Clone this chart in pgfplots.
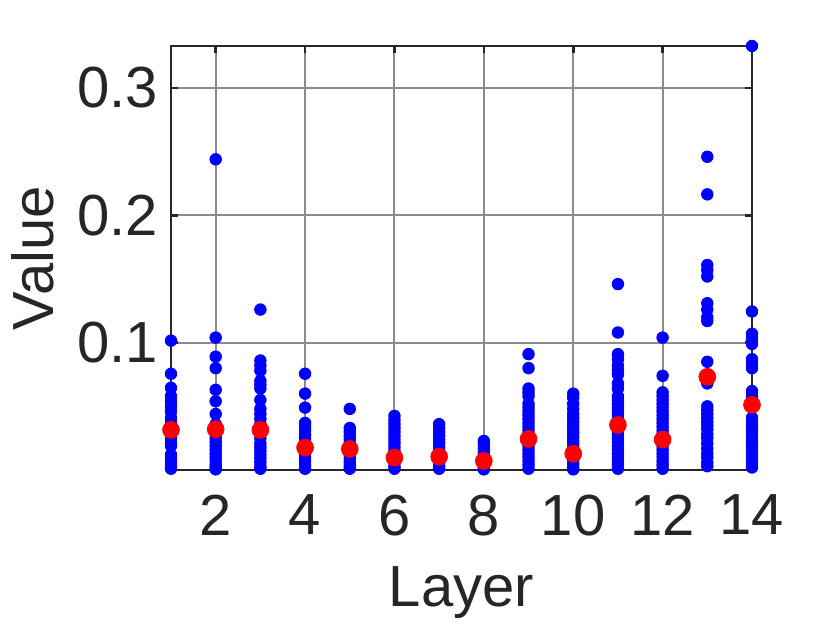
\documentclass[border=0pt]{standalone}
\usepackage{pgfplots}
\pgfplotsset{compat=1.18}
\usepackage{fontspec}
\setmainfont{Liberation Sans}
\definecolor{axgray}{RGB}{38,38,38}

% all values per layer (blue) and the layer means (red)
\pgfplotstableread{
x y
1 0.1016
1 0.0756
1 0.0646
1 0.058
1 0.054
1 0.050
1 0.046
1 0.041
1 0.037
1 0.033
1 0.029
1 0.025
1 0.021
1 0.019
1 0.012
1 0.009
1 0.006
1 0.003
1 0.001
2 0.244
2 0.104
2 0.089
2 0.080
2 0.063
2 0.054
2 0.044
2 0.036
2 0.031
2 0.028
2 0.025
2 0.022
2 0.019
2 0.016
2 0.013
2 0.010
2 0.007
2 0.004
2 0.002
2 0.0005
3 0.126
3 0.086
3 0.082
3 0.078
3 0.070
3 0.067
3 0.064
3 0.055
3 0.048
3 0.044
3 0.040
3 0.036
3 0.025
3 0.021
3 0.018
3 0.015
3 0.012
3 0.009
3 0.006
3 0.003
3 0.001
4 0.0756
4 0.060
4 0.049
4 0.037
4 0.034
4 0.031
4 0.028
4 0.025
4 0.022
4 0.019
4 0.016
4 0.013
4 0.010
4 0.007
4 0.004
4 0.001
5 0.048
5 0.033
5 0.030
5 0.027
5 0.024
5 0.021
5 0.018
5 0.015
5 0.012
5 0.009
5 0.006
5 0.003
5 0.001
6 0.0425
6 0.039
6 0.036
6 0.033
6 0.030
6 0.027
6 0.024
6 0.021
6 0.018
6 0.015
6 0.012
6 0.009
6 0.006
6 0.003
6 0.001
7 0.036
7 0.033
7 0.030
7 0.027
7 0.024
7 0.021
7 0.018
7 0.015
7 0.012
7 0.009
7 0.006
7 0.003
7 0.001
8 0.0228
8 0.020
8 0.017
8 0.014
8 0.011
8 0.008
8 0.005
8 0.002
8 0.0005
9 0.091
9 0.080
9 0.064
9 0.061
9 0.058
9 0.052
9 0.049
9 0.046
9 0.043
9 0.040
9 0.037
9 0.034
9 0.031
9 0.028
9 0.025
9 0.022
9 0.019
9 0.016
9 0.013
9 0.010
9 0.007
9 0.004
9 0.001
10 0.060
10 0.057
10 0.052
10 0.048
10 0.044
10 0.041
10 0.038
10 0.035
10 0.032
10 0.029
10 0.026
10 0.023
10 0.020
10 0.017
10 0.014
10 0.011
10 0.008
10 0.005
10 0.002
10 0.0005
11 0.146
11 0.108
11 0.091
11 0.087
11 0.082
11 0.078
11 0.075
11 0.068
11 0.064
11 0.058
11 0.055
11 0.052
11 0.049
11 0.046
11 0.043
11 0.040
11 0.037
11 0.034
11 0.031
11 0.028
11 0.025
11 0.022
11 0.019
11 0.016
11 0.013
11 0.010
11 0.007
11 0.004
11 0.001
12 0.104
12 0.074
12 0.061
12 0.058
12 0.055
12 0.052
12 0.049
12 0.046
12 0.043
12 0.040
12 0.037
12 0.034
12 0.031
12 0.028
12 0.025
12 0.022
12 0.019
12 0.016
12 0.013
12 0.010
12 0.007
12 0.004
12 0.001
13 0.246
13 0.2165
13 0.161
13 0.157
13 0.152
13 0.131
13 0.126
13 0.120
13 0.117
13 0.085
13 0.068
13 0.050
13 0.047
13 0.044
13 0.041
13 0.038
13 0.035
13 0.032
13 0.028
13 0.025
13 0.021
13 0.017
13 0.013
13 0.010
13 0.006
13 0.003
14 0.333
14 0.1245
14 0.107
14 0.103
14 0.099
14 0.087
14 0.083
14 0.080
14 0.062
14 0.058
14 0.054
14 0.041
14 0.038
14 0.035
14 0.032
14 0.029
14 0.026
14 0.023
14 0.020
14 0.017
14 0.014
14 0.011
14 0.008
14 0.005
14 0.002
}\values

\pgfplotstableread{
x y
1 0.0315
2 0.032
3 0.0315
4 0.0176
5 0.0165
6 0.0097
7 0.0105
8 0.0071
9 0.0244
10 0.0128
11 0.0354
12 0.0239
13 0.0732
14 0.0512
}\means

\begin{document}
\begin{tikzpicture}
\begin{axis}[
  scale only axis, width=290.5pt, height=212pt,
  xmin=1, xmax=14, ymin=0, ymax=0.333,
  xtick={2,4,...,14}, ytick={0.1,0.2,0.3},
  clip=false,
  grid=major,
  major grid style={black!45, line width=1pt},
  axis line style={axgray, line width=1.3pt},
  every tick/.style={axgray, line width=1.3pt},
  major tick length=3.5pt,
  tick align=inside, tick pos=both,
  ticklabel style={font=\fontsize{29}{34}\selectfont, text=axgray},
  /pgf/number format/assume math mode=true,
  xticklabel style={yshift=-9pt},
  yticklabel style={xshift=-3pt},
  label style={font=\fontsize{29}{34}\selectfont, text=axgray},
  xlabel={Layer}, ylabel={Value},
  xlabel style={at={(axis description cs:0.5,-0.29)}, anchor=center},
  ylabel style={at={(axis description cs:-0.2375,0.5)}, anchor=center},
]
\addplot[only marks, mark=*, mark size=2.9pt, color=blue] table[x=x, y=y] {\values};
\addplot[only marks, mark=*, mark size=4.2pt, color=red] table[x=x, y=y] {\means};
\end{axis}
\pgfresetboundingbox
\path (current axis.south west) +(-85.5pt,-76.5pt) (current axis.north east) +(39pt,23pt);
\end{tikzpicture}
\end{document}
